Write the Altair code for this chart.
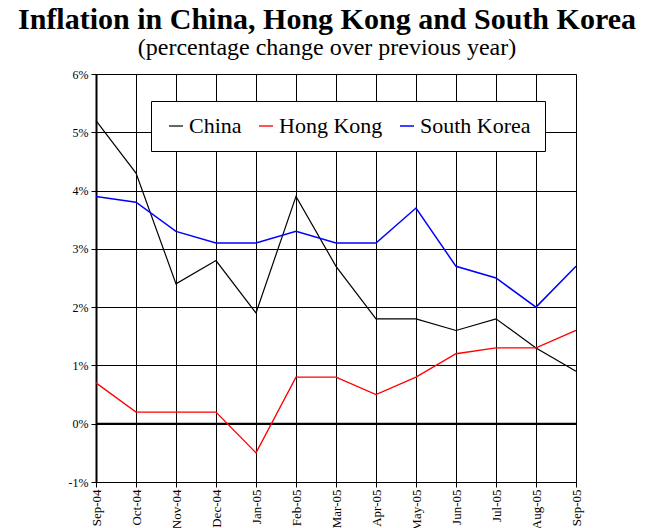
import altair as alt
import pandas as pd

months = ["Sep-04", "Oct-04", "Nov-04", "Dec-04", "Jan-05", "Feb-05", "Mar-05",
          "Apr-05", "May-05", "Jun-05", "Jul-05", "Aug-05", "Sep-05"]
china = [5.2, 4.3, 2.4, 2.8, 1.9, 3.9, 2.7, 1.8, 1.8, 1.6, 1.8, 1.3, 0.9]
hong_kong = [0.7, 0.2, 0.2, 0.2, -0.5, 0.8, 0.8, 0.5, 0.8, 1.2, 1.3, 1.3, 1.6]
south_korea = [3.9, 3.8, 3.3, 3.1, 3.1, 3.3, 3.1, 3.1, 3.7, 2.7, 2.5, 2.0, 2.7]
series_names = ["China", "Hong Kong", "South Korea"]
series_colors = ["#000000", "#ff0000", "#0000ff"]
series_widths = [1.2, 1.5, 2.8]

rows = []
for name, vals in zip(series_names, [china, hong_kong, south_korea]):
    for m, v in zip(months, vals):
        rows.append({"Month": m, "Series": name, "Value": v})
df = pd.DataFrame(rows)

FONT = "Liberation Serif"

legend_props = dict(title=None, orient="none", legendX=55, legendY=27,
                    direction="horizontal", columns=3,
                    symbolType="stroke", symbolSize=196, symbolStrokeWidth=2,
                    labelFont=FONT, labelFontSize=22, labelColor="black",
                    labelOffset=2, columnPadding=13,
                    strokeColor="black", fillColor="white",
                    padding=14)

x_enc = alt.X("Month:O", sort=months, scale=alt.Scale(type="point", padding=0),
              axis=alt.Axis(title=None, labelAngle=270, labelFont=FONT, labelFontSize=13,
                            labelColor="black", grid=True, gridColor="black", gridWidth=1,
                            gridOpacity=1, domainColor="black", tickColor="black",
                            tickSize=5, labelPadding=2, labelAlign="right",
                            labelBaseline="middle"))
y_enc = alt.Y("Value:Q", scale=alt.Scale(domain=[-1, 6], nice=False),
              axis=alt.Axis(title=None, values=[-1, 0, 1, 2, 3, 4, 5, 6],
                            labelExpr="datum.value + '%'", labelFont=FONT,
                            labelFontSize=12, labelColor="black", grid=True,
                            gridColor="black", gridWidth=1, gridOpacity=1,
                            domainColor="black", domainWidth=2, tickColor="black",
                            tickSize=5, labelPadding=3))

lines = alt.Chart(df).mark_line().encode(
    x=x_enc,
    y=y_enc,
    color=alt.Color("Series:N", sort=series_names,
                    scale=alt.Scale(domain=series_names, range=series_colors),
                    legend=alt.Legend(**legend_props)),
    strokeWidth=alt.StrokeWidth("Series:N", sort=series_names,
                                scale=alt.Scale(domain=series_names, range=series_widths),
                                legend=None),
)

zero = alt.Chart(pd.DataFrame({"z": [0]})).mark_rule(color="black", strokeWidth=2).encode(
    y=alt.Y("z:Q", scale=alt.Scale(domain=[-1, 6], nice=False)))

chart = alt.layer(zero, lines).properties(
    width=480, height=408,
    autosize=alt.AutoSizeParams(type="none"),
    padding={"left": 88, "top": 66, "right": 75, "bottom": 46},
    title=alt.TitleParams(text="Inflation in China, Hong Kong and South Korea",
                          subtitle="(percentage change over previous year)",
                          font=FONT, fontSize=30, fontWeight="bold", color="black",
                          subtitleFont=FONT, subtitleFontSize=24, subtitleColor="black",
                          subtitlePadding=1, anchor="middle", offset=8, dx=-9),
).configure_view(stroke="black", strokeWidth=1).configure(background="white")

chart.save("out.html", embed_options={"renderer": "svg", "actions": False})
